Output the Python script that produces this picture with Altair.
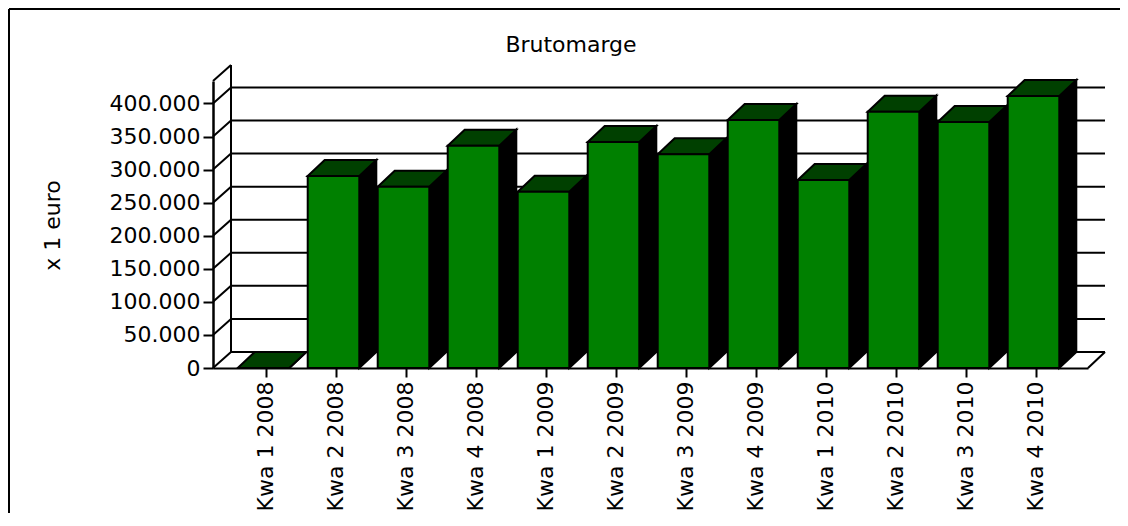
import altair as alt
import pandas as pd

# ---------------- data ----------------
CATEGORIES = ["Kwa 1 2008", "Kwa 2 2008", "Kwa 3 2008", "Kwa 4 2008",
              "Kwa 1 2009", "Kwa 2 2009", "Kwa 3 2009", "Kwa 4 2009",
              "Kwa 1 2010", "Kwa 2 2010", "Kwa 3 2010", "Kwa 4 2010"]
VALUES = [0, 290300, 274200, 336200, 266600, 341800,
          323300, 375000, 284300, 387600, 372000, 411300]
Y_TICKS = [0, 50000, 100000, 150000, 200000, 250000, 300000, 350000, 400000]
TITLE = "Brutomarge"
Y_TITLE = "x 1 euro"

# ---------------- layout / style ----------------
W, H = 875, 287
BAND = 70
XMIN = -0.753
XMAX = XMIN + W / BAND
YMAX = 434000
DX = 17 / BAND              # 3D depth, x (in category units)
DV = 16 * YMAX / H          # 3D depth, y (in value units)
WALL_DX = 18 / BAND
FRONT_L, FRONT_R = -0.40, 0.337
FONT = "DejaVu Sans"
FS = 22
GREEN = "#008000"
DARK = "#004000"

XS = alt.Scale(domain=[XMIN, XMAX], nice=False, zero=False)
YS = alt.Scale(domain=[0, YMAX], nice=False, zero=False)

label_js = "[" + ",".join("'" + c + "'" for c in CATEGORIES) + "][datum.value]"
X_AXIS = alt.Axis(values=list(range(len(CATEGORIES))), labelExpr=label_js, title="",
                  labelAngle=-90, labelFont=FONT, labelFontSize=FS, labelColor="black",
                  labelPadding=4, labelOverlap=False, labelFlush=False, labelBound=False,
                  tickSize=9, tickWidth=2, tickColor="black",
                  domainColor="black", domainWidth=2, grid=False)
Y_AXIS = alt.Axis(values=Y_TICKS,
                  labelExpr="replace(format(datum.value, ','), ',', '.')",
                  labelFont=FONT, labelFontSize=FS, labelColor="black", labelPadding=3,
                  tickSize=10, tickWidth=2, tickColor="black",
                  domainColor="black", domainWidth=2.5, grid=False,
                  title=Y_TITLE, titleFont=FONT, titleFontSize=FS, titleFontWeight="normal",
                  titleColor="black", titleAngle=-90, titleBaseline="middle",
                  titleX=-161, titleY=144)


def xq(f):
    return alt.X(f"{f}:Q", scale=XS, axis=X_AXIS)


def yq(f):
    return alt.Y(f"{f}:Q", scale=YS, axis=Y_AXIS)


# ---------------- tables built from the arrays ----------------
side_rows, top_rows, bar_rows = [], [], []
for i, (c, v) in enumerate(zip(CATEGORIES, VALUES)):
    xl, xr = i + FRONT_L, i + FRONT_R
    bar_rows.append({"name": c, "xl": xl, "xr": xr, "v": v, "zero": 0.0})
    side_rows.append({"name": c, "x": xr, "y": v, "y2": 0.0})
    side_rows.append({"name": c, "x": xr + DX, "y": v + DV, "y2": DV})
    top_rows.append({"name": c, "y": v, "x": xl, "x2": xr})
    top_rows.append({"name": c, "y": v + DV, "x": xl + DX, "x2": xr + DX})
bars = pd.DataFrame(bar_rows)
side = pd.DataFrame(side_rows)
top = pd.DataFrame(top_rows)

xbl = XMIN + WALL_DX
xbr = XMAX + DX
lines = []
for t in Y_TICKS:
    lines.append({"x": XMIN, "y": t, "x2": xbl, "y2": t + DV})      # wall diagonal
    lines.append({"x": xbl, "y": t + DV, "x2": xbr, "y2": t + DV})  # back grid line
lines.append({"x": XMIN, "y": YMAX, "x2": xbl, "y2": YMAX + DV})    # top diagonal
lines.append({"x": xbl, "y": DV, "x2": xbl, "y2": YMAX + DV})       # back wall edge
lines.append({"x": XMAX, "y": 0, "x2": xbr, "y2": DV})              # floor right edge
walls = pd.DataFrame(lines)

# ---------------- layers ----------------
wall_layer = alt.Chart(walls).mark_rule(color="black", strokeWidth=2).encode(
    x=xq("x"), x2="x2:Q", y=yq("y"), y2="y2:Q")

side_layer = alt.Chart(side).mark_area(color="black", stroke="black", strokeWidth=2,
                                       orient="vertical").encode(
    x=xq("x"), y=yq("y"), y2="y2:Q", detail="name:N")

top_layer = alt.Chart(top).mark_area(color=DARK, stroke="black", strokeWidth=2,
                                     orient="horizontal").encode(
    y=yq("y"), x=xq("x"), x2="x2:Q", detail="name:N")

front_layer = alt.Chart(bars).mark_rect(color=GREEN, stroke="black", strokeWidth=2).encode(
    x=xq("xl"), x2="xr:Q", y=yq("v"), y2="zero:Q")

title_layer = alt.Chart(pd.DataFrame({"t": [TITLE]})).mark_text(
    font=FONT, fontSize=FS, baseline="alphabetic", align="center", color="black").encode(
    text="t:N", x=alt.value(358), y=alt.value(-29))

border_top = alt.Chart(pd.DataFrame({"b": [1]})).mark_rule(color="black", strokeWidth=2).encode(
    x=alt.value(-204), x2=alt.value(W + 40), y=alt.value(-72))
border_left = alt.Chart(pd.DataFrame({"b": [1]})).mark_rule(color="black", strokeWidth=2).encode(
    x=alt.value(-204), y=alt.value(-72), y2=alt.value(H + 160))

chart = alt.layer(
    border_top, border_left, wall_layer, side_layer, top_layer, front_layer, title_layer
).properties(
    width=W, height=H,
    autosize=alt.AutoSizeParams(type="none"),
    padding={"left": 205, "top": 73, "right": 32, "bottom": 145},
).configure_view(stroke="transparent")

chart.save("out.html", embed_options={"renderer": "svg", "actions": False})
